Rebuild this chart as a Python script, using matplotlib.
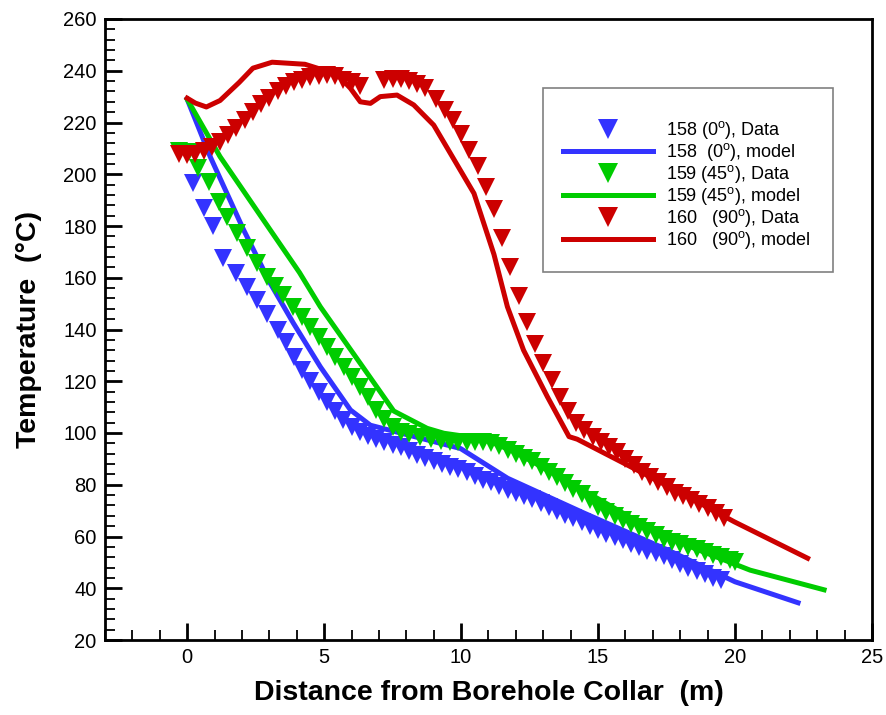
import matplotlib
matplotlib.use("Agg")
import matplotlib.pyplot as plt
from matplotlib.ticker import MultipleLocator
from matplotlib.patches import Rectangle

plt.rcParams['font.family'] = ['Liberation Sans', 'DejaVu Sans']
plt.rcParams['mathtext.fontset'] = 'custom'
plt.rcParams['mathtext.rm'] = 'Liberation Sans'
plt.rcParams['mathtext.it'] = 'Liberation Sans:italic'
plt.rcParams['mathtext.bf'] = 'Liberation Sans:bold'

# ---- data ----
x158_data = [0.2, 0.6, 0.95, 1.3, 1.8, 2.2, 2.55, 2.9, 3.3, 3.6, 3.9, 4.2, 4.5, 4.8, 5.1, 5.4,
             5.7, 6.0, 6.3, 6.6, 6.9, 7.2, 7.5, 7.8, 8.1, 8.4, 8.7, 9.0, 9.3, 9.6, 9.9, 10.2,
             10.5, 10.8, 11.1, 11.4, 11.7, 12.0, 12.3, 12.6, 12.9, 13.2, 13.5, 13.8, 14.1, 14.4,
             14.7, 15.0, 15.3, 15.6, 15.9, 16.2, 16.5, 16.8, 17.1, 17.4, 17.7, 18.0, 18.3, 18.6,
             18.9, 19.2, 19.5]
y158_data = [196.5, 187, 180, 167.5, 162, 156.5, 151.5, 146, 140, 135, 129.5, 124.5, 120, 116, 112, 108.5,
             105, 102.5, 100.5, 99, 97.5, 96.5, 95.5, 94.5, 93, 91.5, 90.5, 89, 88, 87, 86, 85,
             83.5, 82, 81, 79.5, 78, 77, 75.5, 74.5, 73, 71.5, 70, 68.5, 67, 65.5,
             64, 62.5, 61, 60, 58.5, 57, 56, 54.5, 53.5, 52.5, 51, 49.5, 48, 46.5,
             45.5, 44, 43]
x158_model = [0.0, 0.84, 2.06, 3.03, 3.88, 4.86, 5.96, 6.69, 7.42, 9.98, 11.7, 14.5, 17.5, 20.0, 22.3]
y158_model = [229, 206.8, 178.5, 157.9, 142.4, 125.6, 108.9, 103, 101, 94, 82.5, 69, 55, 42.5, 34.4]

x159_data = [-0.3, 0.05, 0.41, 0.78, 1.15, 1.45, 1.82, 2.18, 2.55, 2.91, 3.2, 3.5, 3.88, 4.2, 4.5, 4.8,
             5.1, 5.4, 5.71, 6.0, 6.32, 6.6, 6.9, 7.2, 7.5, 7.8, 8.1, 8.5, 8.9, 9.25, 9.6, 9.9,
             10.22, 10.5, 10.8, 11.1, 11.4, 11.7, 12.0, 12.3, 12.6, 12.9, 13.2, 13.5, 13.8, 14.1,
             14.4, 14.7, 15.0, 15.3, 15.6, 15.9, 16.2, 16.5, 16.8, 17.1, 17.4, 17.7, 18.0, 18.3,
             18.6, 18.9, 19.2, 19.5, 19.8, 20.0]
y159_data = [209, 208.5, 202.3, 197.1, 189.4, 183.6, 177.2, 171.4, 165.6, 160.4, 157, 153.5, 148.8, 145, 141, 137.2,
             133.4, 129.5, 125.6, 121.8, 117.9, 114, 109, 105.5, 102.5, 100.5, 99.5, 98.6, 97.5, 96.8, 96.5, 96.5,
             96.6, 96.6, 96.6, 96, 94.8, 93.5, 92, 90.5, 89, 87, 85, 83, 80.5, 78.5,
             76.5, 74, 71.5, 69.5, 68, 66.5, 65, 63.5, 62, 60.5, 59, 58, 57, 56,
             55, 54, 53, 52, 51, 50]
x159_model = [0.0, 1.2, 2.7, 4.1, 4.86, 6.32, 7.54, 8.76, 9.37, 10.22, 11.07, 12.0, 13.76, 15.1, 16.9, 18.5, 20.55, 23.25]
y159_model = [229, 206.8, 183.6, 162, 148.8, 126.9, 108.5, 101.8, 99.9, 98.6, 96.6, 92.5, 82, 74, 63, 55.5, 47, 39.4]

x160_data = [-0.3, 0.0, 0.3, 0.6, 0.9, 1.2, 1.5, 1.8, 2.1, 2.4, 2.7, 3.0, 3.3, 3.6, 3.9, 4.2,
             4.5, 4.8, 5.1, 5.4, 5.7, 6.0, 6.3, 7.2, 7.5, 7.8, 8.1, 8.4, 8.7, 9.1, 9.4, 9.7,
             10.0, 10.3, 10.6, 10.9, 11.2, 11.5, 11.8, 12.1, 12.4, 12.7, 13.0, 13.3, 13.6, 13.9,
             14.2, 14.5, 14.8, 15.1, 15.4, 15.7, 16.0, 16.3, 16.6, 16.9, 17.2, 17.5, 17.8, 18.1,
             18.4, 18.7, 19.0, 19.3, 19.6]
y160_data = [208, 207.5, 208, 209, 210.5, 212.5, 215, 218, 221, 224, 227, 229.5, 232, 234, 235.5, 236.5,
             237.5, 238, 238.5, 238, 236.5, 235.5, 234, 236.5, 237, 237, 236, 235, 233.5, 229, 225, 221,
             215.5, 209.5, 203, 195, 186.5, 175.5, 164, 153, 143, 134.5, 127, 120.5, 114, 108.5,
             104, 101, 98.5, 96.5, 94.5, 92.5, 90, 87.5, 85, 83, 81, 79, 77, 75.5,
             74, 72.5, 71, 69, 67]
x160_model = [0.0, 0.3, 0.7, 1.2, 1.9, 2.4, 3.1, 4.3, 4.9, 5.5, 5.96, 6.32, 6.69, 7.05, 7.66, 8.27,
              9.0, 10.47, 11.2, 11.69, 12.28, 13.15, 13.94, 14.24, 16.0, 18.0, 19.97, 22.65]
y160_model = [229.4, 227.5, 226, 228.5, 235.5, 241, 243.3, 242.5, 240.5, 238.4, 233.2, 228, 227.4, 230, 230.6, 226.8,
              219, 192.6, 169, 148.8, 132, 114, 98.6, 97.6, 88, 77, 65.7, 51.6]

labels = ['158 (0$^{\\mathrm{o}}$), Data', '158  (0$^{\\mathrm{o}}$), model',
          '159 (45$^{\\mathrm{o}}$), Data', '159 (45$^{\\mathrm{o}}$), model',
          '160   (90$^{\\mathrm{o}}$), Data', '160   (90$^{\\mathrm{o}}$), model']

blue, green, red = '#3333ff', '#00cc00', '#cc0000'

fig = plt.figure(figsize=(8.87, 7.15), dpi=100)
ax = fig.add_axes([105/887, 1-640/715, (872-105)/887, (640-19)/715])

ms = 13
lw = 3.6
ax.plot(x158_data, y158_data, 'v', color=blue, ms=ms, mew=0, label=labels[0], zorder=3)
ax.plot(x158_model, y158_model, '-', color=blue, lw=lw, label=labels[1], zorder=3)
ax.plot(x159_data, y159_data, 'v', color=green, ms=ms, mew=0, label=labels[2], zorder=3)
ax.plot(x159_model, y159_model, '-', color=green, lw=lw, label=labels[3], zorder=3)
ax.plot(x160_data, y160_data, 'v', color=red, ms=ms, mew=0, label=labels[4], zorder=3)
ax.plot(x160_model, y160_model, '-', color=red, lw=lw, label=labels[5], zorder=3)

ax.set_xlim(-3, 25)
ax.set_ylim(20, 260)
ax.xaxis.set_major_locator(MultipleLocator(5))
ax.xaxis.set_minor_locator(MultipleLocator(1))
ax.yaxis.set_major_locator(MultipleLocator(20))
ax.yaxis.set_minor_locator(MultipleLocator(4))
ax.tick_params(which='both', direction='in', top=False, right=False)
ax.tick_params(which='major', length=12, width=2, labelsize=14.5, pad=6)
ax.tick_params(which='minor', length=7, width=1.3)
for s in ax.spines.values():
    s.set_linewidth(2)

ax.set_xlabel('Distance from Borehole Collar  (m)', fontsize=20.5, fontweight='bold', labelpad=9)
ax.set_ylabel('Temperature  (\u00b0C)', fontsize=20.5, fontweight='bold', labelpad=15)

# legend box frame
frame = Rectangle((543/887, 1-272/715), (833-543)/887, (272-88)/715,
                  transform=fig.transFigure, facecolor='white', edgecolor='#808080',
                  linewidth=1.2, zorder=4, clip_on=False)
ax.add_patch(frame)
leg = ax.legend(loc='upper left', bbox_to_anchor=(563/887, 1-119/715), bbox_transform=fig.transFigure,
                fontsize=13, frameon=False, borderpad=0,
                handlelength=5.0, handletextpad=0.7, labelspacing=0.0, markerscale=1.1,
                borderaxespad=0)
leg.set_zorder(5)

fig.savefig('out.png', dpi=100)
